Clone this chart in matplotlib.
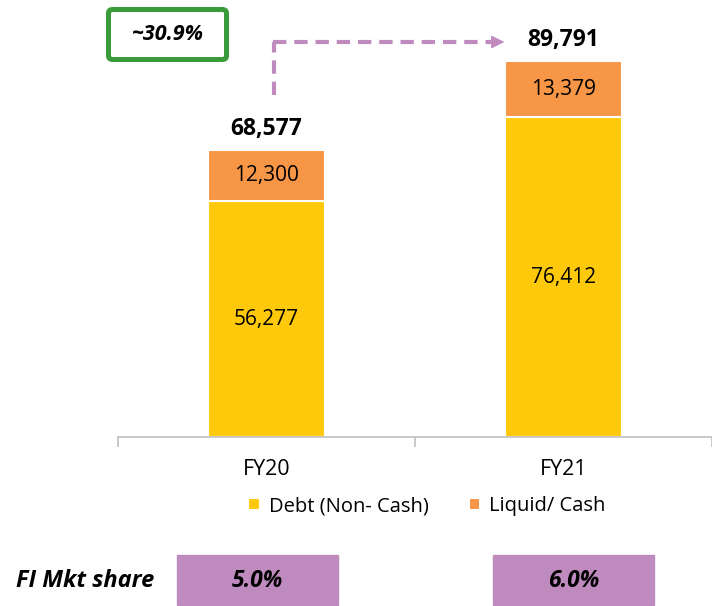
import matplotlib.pyplot as plt
from matplotlib.patches import Rectangle, FancyBboxPatch

plt.rcParams['font.family'] = ['Open Sans', 'DejaVu Sans']

years = ["FY20", "FY21"]
debt = [56277, 76412]
liquid = [12300, 13379]
totals = [68577, 89791]
mkt_share = ["5.0%", "6.0%"]
growth_label = "~30.9%"

YELLOW = "#FFC90B"
ORANGE = "#F79646"
PURPLE = "#BF8BBF"
GREEN = "#3A9B3A"

fig = plt.figure(figsize=(7.12, 6.06), dpi=100)
ax = fig.add_axes([118 / 712, 1 - 437 / 606, (712 - 118) / 712, 437 / 606])

x = list(range(len(years)))
w = 0.395
ax.bar(x, debt, w, color=YELLOW, edgecolor="white", linewidth=1.5, label="Debt (Non- Cash)")
ax.bar(x, liquid, w, bottom=debt, color=ORANGE, edgecolor="white", linewidth=1.5,
       label="Liquid/ Cash")

for i in x:
    ax.text(i, debt[i] / 2, f"{debt[i]:,}", ha="center", va="center", fontsize=15)
    ax.text(i, debt[i] + liquid[i] / 2, f"{liquid[i]:,}", ha="center", va="center", fontsize=15)
    ax.text(i, totals[i] + 2200, f"{totals[i]:,}", ha="center", va="bottom", fontsize=16.5,
            fontweight="bold")

ax.set_xlim(-0.5, 1.485)
ax.set_ylim(0, 104420)
ax.set_yticks([])
for s in ["top", "right", "left"]:
    ax.spines[s].set_visible(False)
ax.spines["bottom"].set_color("#BFBFBF")
ax.spines["bottom"].set_linewidth(1.2)
ax.set_xticks(x)
ax.set_xticklabels(years, fontsize=15.5)
ax.tick_params(axis="x", which="major", length=0, pad=16)
ax.set_xticks([-0.5, 0.5, 1.5], minor=True)
ax.tick_params(axis="x", which="minor", length=7, color="#BFBFBF", width=1.2)

# growth arrow
px = lambda p: (p - 118) / 299 - 0.5
py = lambda p: (437 - p) / 437 * 104420
ax.plot([px(275.5), px(275.5)], [py(95), py(42)], ls=(0, (3.2, 1.9)), color=PURPLE, lw=3,
        clip_on=False, dash_capstyle="butt")
ax.plot([px(274), px(494)], [py(42), py(42)], ls=(0, (3.2, 1.9)), color=PURPLE, lw=3,
        clip_on=False, dash_capstyle="butt")
ax.annotate("", xy=(px(507), py(42)), xytext=(px(492), py(42)),
            arrowprops=dict(arrowstyle="-|>,head_length=0.8,head_width=0.4", color=PURPLE,
                            lw=1, shrinkA=0, shrinkB=0),
            annotation_clip=False)

# growth box
fig.patches.append(FancyBboxPatch((108.5 / 712, 1 - 59.5 / 606), 118 / 712, 50 / 606,
                                  boxstyle="round,pad=0,rounding_size=0.006",
                                  transform=fig.transFigure, fill=False, edgecolor=GREEN,
                                  lw=3.6))
fig.text(168 / 712, 1 - 34 / 606, growth_label, ha="center", va="center", fontsize=15.5,
         fontweight="bold", fontstyle="italic")

ax.legend(loc="center", bbox_to_anchor=(0.52, -0.158), ncol=2, frameon=False, fontsize=14.5,
          handlelength=0.55, handleheight=0.55, handletextpad=0.45, columnspacing=2.0)

# market share row
fig.text(16 / 712, 1 - 581 / 606, "FI Mkt share", ha="left", va="center", fontsize=17,
         fontweight="bold", fontstyle="italic")
box_x = [177, 493]
for bx, share in zip(box_x, mkt_share):
    fig.patches.append(Rectangle((bx / 712, 1 - 605 / 606), 161 / 712, 50 / 606,
                                 transform=fig.transFigure, color=PURPLE))
    fig.text((bx + 80.5) / 712, 1 - 581 / 606, share, ha="center", va="center", fontsize=16.5,
             fontweight="bold", fontstyle="italic")

fig.savefig("out.png", dpi=100)
